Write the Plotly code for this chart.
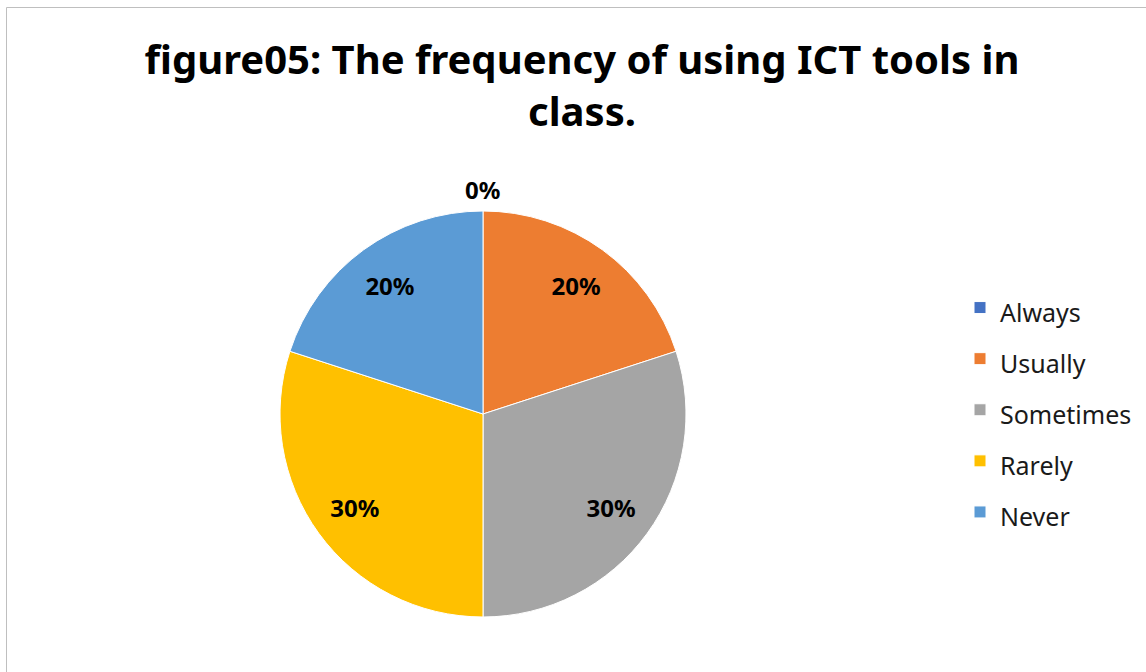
import math
import plotly.graph_objects as go

categories = ["Always", "Usually", "Sometimes", "Rarely", "Never"]
values = [0, 20, 30, 30, 20]
colors = ["#4472C4", "#ED7D31", "#A5A5A5", "#FFC000", "#5B9BD5"]
title_text = "figure05: The frequency of using ICT tools in<br>class."

W, H = 1146, 672
cx, cy, r = 483, 414, 203
dom = dict(x=[(cx - r) / W, (cx + r) / W], y=[(H - cy - r) / H, (H - cy + r) / H])
label_font = dict(family="Noto Sans", size=24, color="black", weight="bold")
legend_labels = [f"<span style='font-size:25px'>{c}</span>" for c in categories]

# slices
fig = go.Figure(go.Pie(
    labels=legend_labels,
    values=values,
    sort=False,
    direction="clockwise",
    rotation=0,
    marker=dict(colors=colors, line=dict(color="white", width=1)),
    textinfo="none",
    domain=dom,
    showlegend=True,
    hoverinfo="label+percent",
))

# data labels (ring-positioned, transparent)
fig.add_trace(go.Pie(
    labels=legend_labels,
    values=values,
    sort=False,
    direction="clockwise",
    rotation=0,
    hole=0.56,
    marker=dict(colors=["rgba(0,0,0,0)"] * len(values), line=dict(width=0)),
    texttemplate=["" if v == 0 else "%{percent:.0%}" for v in values],
    textposition="inside",
    insidetextorientation="horizontal",
    textfont=label_font,
    domain=dom,
    showlegend=False,
    hoverinfo="skip",
))

# labels for zero-valued slices, placed just outside the rim at their angle
total = sum(values)
annotations = []
cum = 0
for c, v in zip(categories, values):
    if v == 0:
        ang = math.radians(90 - cum / total * 360)
        px = cx + (r + 22) * math.cos(ang)
        py = cy - (r + 22) * math.sin(ang)
        annotations.append(dict(text=f"{v / total:.0%}", x=px / W, y=1 - py / H,
                                xref="paper", yref="paper", showarrow=False,
                                xanchor="center", yanchor="middle", font=label_font))
    cum += v

fig.update_layout(
    width=W, height=H,
    margin=dict(l=0, r=0, t=0, b=0),
    paper_bgcolor="white",
    title=dict(text=title_text, x=582 / W, xanchor="center", y=1 - 74 / H, yanchor="top",
               font=dict(family="Noto Sans", size=40, color="black", weight="bold")),
    legend=dict(x=960 / W, y=1 - 277 / H, xanchor="left", yanchor="top",
                font=dict(family="Noto Sans", size=37, color="#1a1a1a"),
                bgcolor="rgba(0,0,0,0)"),
    annotations=annotations,
    shapes=[dict(type="rect", xref="paper", yref="paper",
                 x0=6.5 / W, x1=1.01, y0=-0.01, y1=1 - 7.5 / H,
                 line=dict(color="#BFBFBF", width=1), fillcolor="rgba(0,0,0,0)", layer="above")],
)

fig.write_html("out.html", config={"displayModeBar": False},
               post_script="document.body.style.margin='0';document.body.style.padding='0';")
